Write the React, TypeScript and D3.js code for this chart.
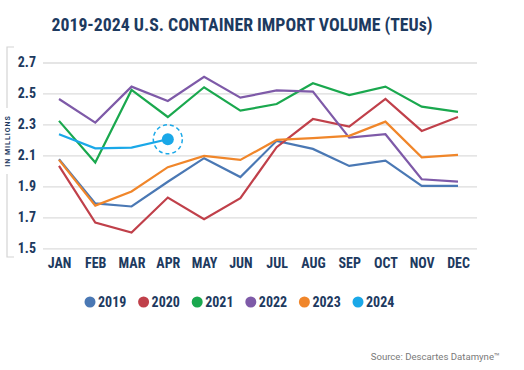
import { useEffect, useRef } from 'react';
import { select, scalePoint, scaleLinear, axisLeft, axisBottom, line } from 'd3';

const months = ['JAN', 'FEB', 'MAR', 'APR', 'MAY', 'JUN', 'JUL', 'AUG', 'SEP', 'OCT', 'NOV', 'DEC'];
const yTicks = [1.5, 1.7, 1.9, 2.1, 2.3, 2.5, 2.7];
const years = ['2019', '2020', '2021', '2022', '2023', '2024'];
const colours = ['#4a78b4', '#c0404a', '#1aa84e', '#7e5aa8', '#f0862a', '#1aa8e8'];

const v2019 = [2.075, 1.79, 1.77, 1.93, 2.082, 1.96, 2.194, 2.142, 2.032, 2.066, 1.903, 1.903];
const v2020 = [2.032, 1.666, 1.602, 1.828, 1.688, 1.824, 2.153, 2.335, 2.286, 2.465, 2.258, 2.348];
const v2021 = [2.323, 2.054, 2.523, 2.348, 2.54, 2.389, 2.432, 2.566, 2.49, 2.544, 2.415, 2.381];
const v2022 = [2.464, 2.312, 2.544, 2.452, 2.608, 2.473, 2.52, 2.512, 2.215, 2.237, 1.946, 1.931];
const v2023 = [2.071, 1.776, 1.867, 2.024, 2.097, 2.071, 2.2, 2.211, 2.226, 2.318, 2.088, 2.103];
const v2024 = [2.237, 2.146, 2.15, 2.204];

const seriesValues = [v2019, v2020, v2021, v2022, v2023, v2024];

const navy = '#1d3a5f';
const font = "'Roboto Condensed', 'Liberation Sans Narrow', 'DejaVu Sans Condensed', Roboto, sans-serif";

const App = () => {
  const svgRef = useRef();

  useEffect(() => {
    const svg = select(svgRef.current);
    const left = 43;
    const right = 477;

    const xScale = scalePoint().domain(months).range([59, 458]);
    const yScale = scaleLinear().domain([1.5, 2.7]).range([248.3, 62.5]);

    const yAxis = axisLeft(yScale)
      .tickValues(yTicks)
      .tickSize(-(right - left))
      .tickPadding(7)
      .tickFormat((d) => d.toFixed(1));

    const gy = svg.select('.y-axis').attr('transform', `translate(${left}, 0)`).call(yAxis);
    gy.select('.domain').remove();
    gy.selectAll('line').attr('stroke', '#dcdcdc').attr('stroke-width', 1.3);
    gy.selectAll('text')
      .attr('fill', navy)
      .attr('font-family', font)
      .attr('font-weight', 700)
      .attr('font-size', 14);

    const xAxis = axisBottom(xScale).tickSize(0).tickPadding(10);
    const gx = svg.select('.x-axis').attr('transform', `translate(0, 248.3)`).call(xAxis);
    gx.select('.domain').remove();
    gx.selectAll('text')
      .attr('fill', navy)
      .attr('font-family', font)
      .attr('font-weight', 700)
      .attr('font-size', 14);

    const lineGen = line()
      .x((d, i) => xScale(months[i]))
      .y((d) => yScale(d));

    svg
      .select('.lines')
      .selectAll('path')
      .data(seriesValues)
      .join('path')
      .attr('d', (d) => lineGen(d))
      .attr('fill', 'none')
      .attr('stroke', (d, i) => colours[i])
      .attr('stroke-width', 2.2)
      .attr('stroke-linejoin', 'miter');

    // highlight on the latest 2024 month
    const last = v2024.length - 1;
    const hx = xScale(months[last]);
    const hy = yScale(v2024[last]);
    const hl = svg.select('.highlight');
    hl.selectAll('*').remove();
    hl.append('circle')
      .attr('cx', hx)
      .attr('cy', hy)
      .attr('r', 14.5)
      .attr('fill', 'none')
      .attr('stroke', colours[5])
      .attr('stroke-width', 1.5)
      .attr('stroke-dasharray', '4 3');
    hl.append('circle').attr('cx', hx).attr('cy', hy).attr('r', 6).attr('fill', colours[5]);

    // legend
    const legend = svg
      .select('.legend')
      .selectAll('g')
      .data(years)
      .join('g')
      .attr('transform', (d, i) => `translate(${90 + i * 53.6}, 302)`);
    legend.selectAll('*').remove();
    legend.append('circle').attr('r', 5.5).attr('fill', (d, i) => colours[i]);
    legend
      .append('text')
      .attr('x', 8)
      .attr('dy', '0.36em')
      .attr('fill', navy)
      .attr('font-family', font)
      .attr('font-weight', 700)
      .attr('font-size', 14)
      .text((d) => d);
  }, []);

  return (
    <svg
      ref={svgRef}
      width={524}
      height={370}
      style={{ position: 'absolute', left: 0, top: 0, background: '#fff' }}
    >
      <text
        x={242}
        y={31}
        textAnchor='middle'
        fill={navy}
        fontFamily={font}
        fontWeight={700}
        fontSize={17.8}
      >
        2019-2024 U.S. CONTAINER IMPORT VOLUME (TEUs)
      </text>
      <path d='M14,47 H7 V108 M7,174 V257 H14' fill='none' stroke='#d4d4d4' strokeWidth={1.2} />
      <text
        transform='translate(10, 141) rotate(-90)'
        textAnchor='middle'
        fill={navy}
        fontFamily="Roboto, sans-serif"
        fontWeight={700}
        fontSize={7}
        letterSpacing={1}
      >
        IN MILLIONS
      </text>
      <g className='y-axis' />
      <g className='x-axis' />
      <g className='lines' />
      <g className='highlight' />
      <g className='legend' />
      <text
        x={500}
        y={360}
        textAnchor='end'
        fill='#7a7a7a'
        fontFamily="Roboto, sans-serif"
        fontSize={9.6}
      >
        Source: Descartes Datamyne™
      </text>
    </svg>
  );
};

export default App;
